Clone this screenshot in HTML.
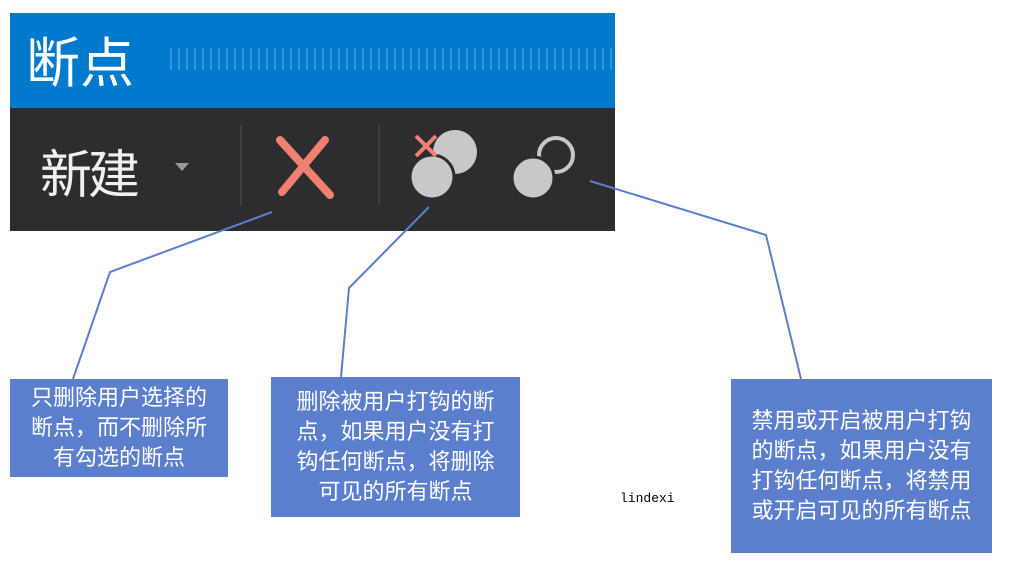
<!DOCTYPE html><html><head><meta charset="utf-8"><style>
body{margin:0;width:1015px;height:568px;background:#fff;position:relative;overflow:hidden;font-family:"Liberation Sans","Noto Sans CJK SC",sans-serif}
.b{position:absolute;background:#5b7fcc;color:#fff;font-size:22px;line-height:30px;text-align:center;display:flex;align-items:center;justify-content:center}
</style></head><body>
<div style="position:absolute;left:10px;top:13px;width:605px;height:95px;background:#007acc"></div>
<div style="position:absolute;left:170px;top:48px;width:445px;height:22px;background:repeating-linear-gradient(90deg,rgba(255,255,255,.35) 0 2px,transparent 2px 8px);opacity:.6"></div>
<div style="position:absolute;left:26px;top:26px;color:#fff;font-size:54px;font-family:'Noto Sans CJK SC',sans-serif;line-height:66px">断点</div>
<div style="position:absolute;left:10px;top:108px;width:605px;height:123px;background:#2d2d30"></div>
<div style="position:absolute;left:40px;top:138px;color:#f0f0f0;font-size:52px;font-family:'Noto Sans CJK SC',sans-serif;line-height:66px;letter-spacing:-4px">新建</div>
<div style="position:absolute;left:175px;top:163px;border:7px solid transparent;border-top:8px solid #999;border-bottom:0"></div>
<div style="position:absolute;left:240px;top:125px;width:2px;height:80px;background:#3f3f46"></div>
<div style="position:absolute;left:378px;top:125px;width:2px;height:80px;background:#3f3f46"></div>
<svg style="position:absolute;left:0;top:0" width="1015" height="568">
<g stroke="#f08070" stroke-width="8" stroke-linecap="round"><line x1="280" y1="140" x2="330" y2="195"/><line x1="325" y1="140" x2="282" y2="192"/></g>
<circle cx="455" cy="152" r="22" fill="#c8c8c8"/><circle cx="432" cy="177" r="22" fill="#c8c8c8" stroke="#2d2d30" stroke-width="3"/>
<g stroke="#f08070" stroke-width="4"><line x1="416" y1="136" x2="436" y2="156"/><line x1="436" y1="136" x2="416" y2="156"/></g>
<circle cx="556" cy="155" r="17" fill="none" stroke="#c8c8c8" stroke-width="4"/><circle cx="533" cy="178" r="21" fill="#c8c8c8" stroke="#2d2d30" stroke-width="3"/>
<g stroke="#5b7fcc" stroke-width="2" fill="none">
<polyline points="272,212 110,272 73,379"/><polyline points="429,207 349,288 341,377"/><polyline points="590,181 766,235 801,379"/></g>
<text x="620" y="502" font-family="Liberation Mono,monospace" font-size="13" fill="#000">lindexi</text>
</svg>
<div class="b" style="left:10px;top:379px;width:218px;height:98px">只删除用户选择的<br>断点，而不删除所<br>有勾选的断点</div>
<div class="b" style="left:271px;top:377px;width:249px;height:140px">删除被用户打钩的断<br>点，如果用户没有打<br>钩任何断点，将删除<br>可见的所有断点</div>
<div class="b" style="left:731px;top:379px;width:261px;height:174px">禁用或开启被用户打钩<br>的断点，如果用户没有<br>打钩任何断点，将禁用<br>或开启可见的所有断点</div>
</body></html>
